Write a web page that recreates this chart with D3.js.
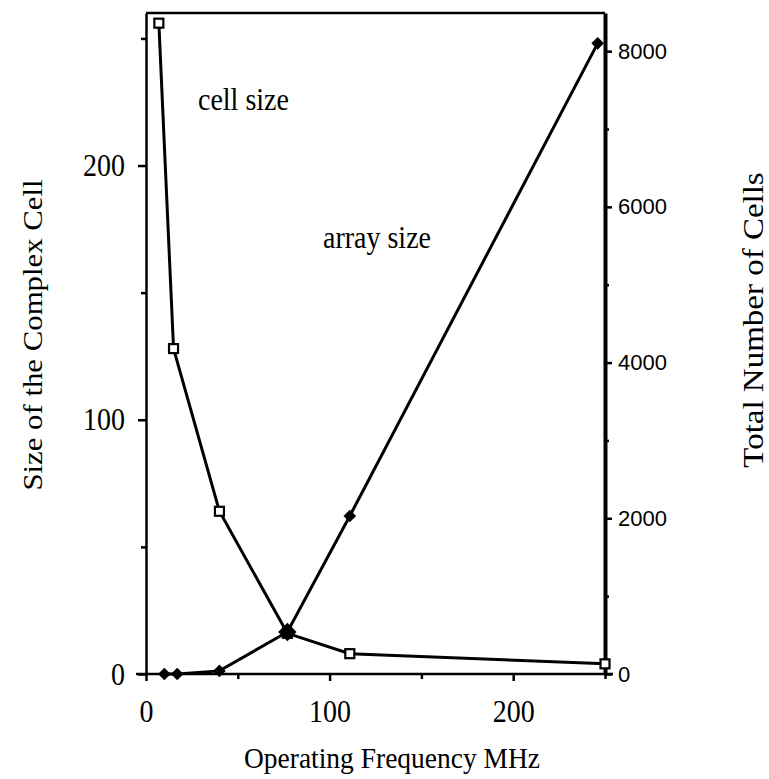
<!DOCTYPE html>
<html>
<head>
<meta charset="utf-8">
<script src="https://cdn.jsdelivr.net/npm/d3@7"></script>
<style>
  body { margin: 0; background: #fff; }
  svg text { fill: #000; }
</style>
</head>
<body>
<svg id="chart" width="769" height="779"></svg>
<script>
"use strict";

// data
var cellFreq = [7, 15, 40, 77, 111, 250];
var cellSize = [256, 128, 64, 16, 8, 4];
var arrayFreq = [10, 17, 40, 77, 111, 246];
var arraySize = [0, 0, 40, 540, 2030, 8100];

var xTicks = [0, 50, 100, 150, 200, 250];
var xLabels = [0, 100, 200];
var leftTicks = [0, 50, 100, 150, 200, 250];
var leftLabels = [0, 100, 200];
var rightTicks = [0, 1000, 2000, 3000, 4000, 5000, 6000, 7000, 8000];
var rightLabels = [0, 2000, 4000, 6000, 8000];

var svg = d3.select('#chart');
var serif = '"Liberation Serif", "Times New Roman", serif';
var sans = '"Liberation Sans", Arial, sans-serif';
// the scanned serif type is a little taller than it is wide
var stretch = 1.1;

//scales
var x = d3.scaleLinear().domain([0, 250]).range([146, 605]);
var yL = d3.scaleLinear().domain([0, 260]).range([674, 13]);
var yR = d3.scaleLinear().domain([0, 8490]).range([674, 13]);

function fmt(labels) {
  return function(d) { return labels.indexOf(d) >= 0 ? d : '' };
}
// labelled ticks are a bit longer than the blank ones
function tickLen(g, labels, big, small) {
  g.selectAll('.tick line').each(function(d) {
    var l = d3.select(this);
    var len = labels.indexOf(d) >= 0 ? big : small;
    if (l.attr('x2') != null && +l.attr('x2') !== 0) l.attr('x2', +l.attr('x2') > 0 ? len : -len);
    if (l.attr('y2') != null && +l.attr('y2') !== 0) l.attr('y2', +l.attr('y2') > 0 ? len : -len);
  });
}

//axes
var bottom = svg.append('g')
  .attr('transform', 'translate(0,' + yL(0) + ')')
  .call(d3.axisBottom(x).tickValues(xTicks).tickFormat(fmt(xLabels)).tickSize(7).tickSizeOuter(0));

var left = svg.append('g')
  .attr('transform', 'translate(' + x(0) + ',0)')
  .call(d3.axisLeft(yL).tickValues(leftTicks).tickFormat(fmt(leftLabels)).tickSize(8).tickSizeOuter(0));

var right = svg.append('g')
  .attr('transform', 'translate(' + x(250) + ',0)')
  .call(d3.axisRight(yR).tickValues(rightTicks).tickFormat(fmt(rightLabels)).tickSize(7).tickSizeOuter(0).tickPadding(6));

tickLen(bottom, xLabels, 7, 5);
tickLen(left, leftLabels, 8, 5);
tickLen(right, rightLabels, 7, 4);

bottom.selectAll('text')
  .attr('y', null).attr('dy', null)
  .attr('transform', 'translate(0,48) scale(1,' + stretch + ')')
  .style('font-family', serif).style('font-size', '28px');

left.selectAll('text')
  .attr('x', null).attr('dy', null)
  .attr('transform', 'translate(-21,10) scale(1,' + stretch + ')')
  .style('font-family', serif).style('font-size', '28px');

right.selectAll('text').style('font-family', sans).style('font-size', '22px');

svg.selectAll('.domain').attr('stroke', '#000').attr('stroke-width', 2.5);
svg.selectAll('.tick line').attr('stroke', '#000').attr('stroke-width', 2.5);
right.select('.domain').attr('stroke-width', 4);

// x axis line pokes a bit past both ends, like the original
bottom.select('.domain').attr('d', 'M' + (x(0) - 10) + ',0H' + (x(250) + 8));

//top frame line
svg.append('line')
  .attr('x1', x(0)).attr('x2', x(250))
  .attr('y1', yL(260)).attr('y2', yL(260))
  .attr('stroke', '#000').attr('stroke-width', 2.5);

//lines
var cellPts = cellFreq.map(function(f, i) { return [x(f), yL(cellSize[i])] });
var arrayPts = arrayFreq.map(function(f, i) { return [x(f), yR(arraySize[i])] });

svg.append('path')
  .attr('d', d3.line()(cellPts))
  .attr('fill', 'none').attr('stroke', '#000').attr('stroke-width', 3);

svg.append('path')
  .attr('d', d3.line()(arrayPts))
  .attr('fill', 'none').attr('stroke', '#000').attr('stroke-width', 3);

//markers
svg.selectAll('.sq')
  .data(cellPts)
  .enter().append('rect')
  .attr('class', 'sq')
  .attr('x', function(p) { return p[0] - 4.5 })
  .attr('y', function(p) { return p[1] - 4.5 })
  .attr('width', 9).attr('height', 9)
  .attr('fill', '#fff').attr('stroke', '#000').attr('stroke-width', 2.2);

svg.selectAll('.dm')
  .data(arrayPts)
  .enter().append('path')
  .attr('class', 'dm')
  .attr('transform', function(p) { return 'translate(' + p[0] + ',' + p[1] + ') rotate(45)' })
  .attr('d', function(p, i) {
    // where both series meet the marker looks bigger
    var j = cellFreq.indexOf(arrayFreq[i]);
    var big = j >= 0 && Math.abs(p[1] - cellPts[j][1]) < 6;
    return d3.symbol().type(d3.symbolSquare).size(big ? 170 : 80)();
  })
  .attr('fill', '#000');

//text helpers
function flatText(str, px, py, size, anchor) {
  return svg.append('text')
    .attr('transform', 'translate(' + px + ',' + py + ') scale(1,' + stretch + ')')
    .attr('text-anchor', anchor || 'start')
    .style('font-family', serif).style('font-size', size + 'px')
    .text(str);
}
function upText(str, px, py, size) {
  return svg.append('text')
    .attr('transform', 'translate(' + px + ',' + py + ') rotate(-90) scale(' + stretch + ',1)')
    .attr('text-anchor', 'middle')
    .style('font-family', serif).style('font-size', size + 'px')
    .text(str);
}

//annotations
flatText('cell size', 198, 110, 28);
flatText('array size', 323, 248, 28);

//axis titles
upText('Size of the Complex Cell', 42, 335, 28);
upText('Total Number of Cells', 763, 320, 30);
flatText('Operating Frequency MHz', 392, 768, 27.5, 'middle');
</script>
</body>
</html>
